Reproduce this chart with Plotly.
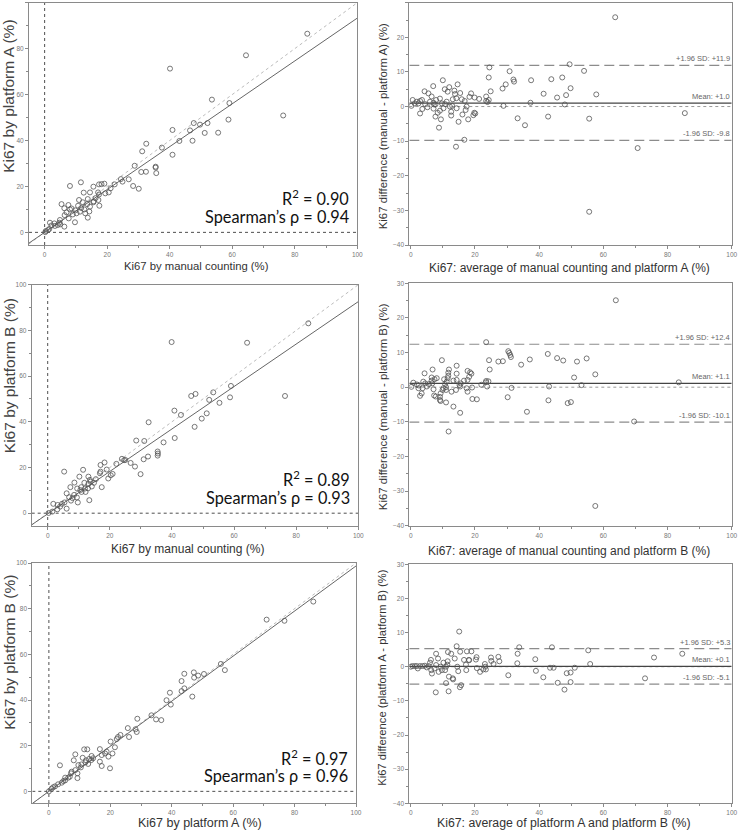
import plotly.graph_objects as go

# ---------------- data ----------------
# Panel 1: manual counting (x) vs platform A (y)
p1_x = [84.0, 64.4, 40.1, 76.3, 53.5, 59.1, 58.8, 47.7, 49.7, 52.1, 46.5, 40.9, 51.2, 55.5, 43.1, 47.3,
        32.5, 37.5, 31.2, 40.9, 35.5, 35.5, 28.8, 35.7, 32.4, 30.9, 26.9, 24.4, 24.9, 28.3, 30.1, 22.4,
        21.1, 20.5, 19.4, 19.1, 18.2, 17.4, 8.1, 11.6, 15.6, 12.5, 14.5, 17.1, 17.4, 13.8, 16.3, 17.2,
        15.7, 17.5, 11.0, 12.2, 13.6, 14.3, 13.8, 5.4, 7.6, 6.3, 8.1, 9.8, 11.7, 10.2, 9.0, 6.4, 7.7,
        9.7, 6.3, 4.7, 3.1, 1.7, 1.5, 0.4, 0.2, 3.3, 4.2, 4.9, 7.0, 8.6, 12.7, 15.6, 13.0, 11.3, 10.7,
        14.5, 5.0, 2.2, 1.1]
p1_y = [86.5, 77.1, 71.3, 50.9, 57.8, 56.3, 49.1, 47.6, 46.9, 47.6, 44.4, 44.6, 43.3, 43.4, 39.8, 39.9,
        38.6, 36.9, 35.3, 33.8, 28.6, 28.2, 29.0, 25.8, 26.4, 26.3, 23.1, 23.2, 22.1, 20.2, 19.0, 20.9,
        19.2, 17.4, 17.0, 21.2, 21.0, 20.9, 20.2, 21.8, 19.9, 17.3, 17.4, 17.4, 16.5, 14.5, 14.9, 14.1,
        13.5, 11.6, 14.1, 13.1, 12.3, 9.1, 6.4, 12.3, 11.9, 10.5, 10.0, 9.6, 10.6, 8.3, 7.8, 7.5, 6.1,
        4.4, 2.5, 4.2, 3.9, 4.2, 1.5, 0.6, 0.1, 2.8, 3.2, 5.4, 8.7, 10.4, 10.0, 13.1, 8.3, 9.0, 11.6,
        11.2, 3.5, 3.0, 1.0]

# Panel 2: Bland-Altman manual vs platform A
p2_x = [63.7, 49.5, 54.0, 24.5, 30.8, 24.3, 32.0, 32.2, 37.5, 43.8, 47.2, 29.6, 28.6, 49.8, 24.9, 41.4,
        57.8, 48.4, 45.6, 23.5, 21.3, 19.9, 18.8, 18.3, 23.5, 24.3, 23.9, 37.3, 48.0, 28.9, 85.4, 33.3,
        42.8, 35.6, 55.6, 70.7, 55.6, 14.1, 16.7, 14.9, 10.0, 14.6, 12.0, 7.0, 4.3, 10.6, 11.5, 13.6,
        13.8, 15.4, 13.1, 5.5, 6.5, 7.9, 9.1, 6.0, 3.5, 1.9, 0.6, 1.2, 0.2, 2.4, 2.9, 4.5, 5.2, 2.9,
        3.6, 7.1, 8.4, 7.7, 9.1, 8.8, 9.4, 10.7, 11.2, 12.2, 12.6, 12.6, 12.9, 14.3, 15.9, 14.2, 16.8,
        17.4, 17.1, 17.9, 16.1, 19.5, 19.8, 20.1, 7.3, 9.7, 10.2, 7.1, 7.7]
p2_y = [25.8, 12.2, 10.3, 11.3, 10.2, 8.4, 7.8, 7.2, 7.6, 7.9, 8.4, 6.4, 5.2, 5.3, 4.4, 3.7,
        3.5, 3.3, 2.6, 2.9, 2.2, 2.6, 3.8, 2.8, 1.6, 1.9, 1.3, 1.1, 0.6, 0.2, -1.9, -3.4,
        -2.9, -5.4, -3.5, -12.0, -30.4, -11.6, -9.6, -4.4, 7.6, 6.4, 5.6, 5.9, 4.4, 5.0, 4.3, 4.6,
        3.6, 3.9, 2.1, 3.8, 2.9, 1.9, 2.3, 1.4, 1.9, 1.4, 1.9, 0.9, 0.2, 0.9, 1.6, 0.7, -0.2, -2.0,
        -0.7, -0.6, -1.8, -2.9, -1.2, -6.1, -3.7, 0.7, 1.4, 0.0, -1.5, -2.6, 0.2, -0.5, 2.1, 2.4, 1.6,
        0.0, -1.0, -3.7, -2.3, -2.5, -1.8, -2.0, 0.6, 0.9, -0.5, 1.1, 0.6]

# Panel 3: manual counting (x) vs platform B (y)
p3_x = [83.9, 64.2, 39.9, 76.4, 59.0, 58.7, 55.3, 53.3, 52.0, 46.2, 47.6, 51.2, 49.6, 42.9, 40.8, 47.3,
        40.9, 32.5, 37.3, 31.1, 28.5, 35.4, 35.5, 35.4, 32.3, 30.9, 29.9, 28.1, 26.7, 24.6, 23.9, 25.0,
        22.1, 20.9, 20.3, 18.3, 17.0, 19.0, 19.5, 17.0, 16.8, 17.4, 15.5, 14.9, 13.6, 13.0, 13.4, 11.8,
        11.4, 10.2, 5.3, 8.6, 7.3, 9.5, 10.8, 12.0, 12.2, 10.9, 8.5, 6.1, 6.9, 8.0, 7.5, 9.4, 9.7,
        6.1, 4.6, 3.2, 1.8, 3.1, 1.5, 0.3, 4.0, 5.4, 13.1, 14.2, 10.5, 13.1, 13.8]
p3_y = [83.1, 74.6, 74.9, 51.3, 55.7, 50.7, 48.3, 52.9, 49.6, 51.3, 52.2, 43.7, 41.4, 43.0, 44.9, 37.8,
        32.9, 39.8, 31.0, 31.6, 31.8, 27.0, 26.1, 25.2, 24.8, 23.6, 17.1, 20.4, 22.0, 23.2, 23.8, 23.3,
        21.6, 17.2, 16.6, 22.2, 21.1, 19.1, 15.2, 18.2, 17.5, 11.4, 14.9, 13.3, 14.6, 10.9, 5.7, 13.3,
        19.0, 16.0, 18.2, 13.4, 11.4, 10.8, 11.4, 10.8, 9.3, 9.3, 8.0, 8.7, 7.0, 6.6, 5.5, 6.9, 4.7,
        2.0, 4.1, 3.6, 4.1, 1.7, 0.7, 0.1, 2.9, 4.7, 12.8, 11.7, 10.1, 16.0, 13.8]

# Panel 4: Bland-Altman manual vs platform B
p4_x = [63.9, 57.5, 23.5, 30.4, 30.7, 31.0, 31.2, 27.3, 28.7, 24.4, 34.4, 37.1, 42.7, 45.6, 47.5, 51.8,
        54.8, 57.5, 50.9, 53.2, 43.1, 31.4, 30.2, 42.9, 48.9, 49.9, 36.2, 69.6, 83.5, 24.6, 23.5, 24.2,
        23.8, 23.4, 22.0, 20.6, 19.2, 19.1, 18.9, 18.5, 17.7, 18.2, 17.7, 17.4, 17.7, 16.6, 15.2, 15.4,
        15.6, 15.4, 13.3, 14.3, 14.3, 14.3, 14.1, 13.3, 12.7, 11.9, 11.7, 11.7, 11.5, 11.2, 11.0, 11.0,
        10.7, 11.0, 11.8, 10.4, 9.7, 10.2, 9.9, 9.3, 9.1, 9.1, 9.3, 8.1, 7.4, 6.8, 6.5, 6.5, 6.7, 7.1,
        7.3, 7.8, 5.7, 5.0, 4.5, 4.3, 3.9, 3.7, 3.4, 2.9, 2.5, 2.4, 1.9, 0.8, 0.2]
p4_y = [25.1, -34.3, 13.0, 10.4, 9.9, 9.3, 8.7, 7.4, 7.5, 7.8, 6.5, 8.0, 9.6, 8.4, 7.7, 7.4,
        8.3, 3.7, 2.8, 0.6, 0.2, -0.2, -2.9, -3.8, -4.6, -4.3, -7.1, -9.9, 1.4, 5.1, 1.8, 1.7,
        0.2, 1.4, 0.7, -3.5, -3.4, -0.1, 3.9, 4.3, 4.7, 3.0, 2.1, -0.3, -1.3, 1.9, 0.6, 0.2,
        1.1, -7.4, -5.6, 3.9, 6.2, 2.1, -0.8, 1.9, -1.3, 5.1, 4.2, 3.3, 2.6, 1.6, 0.0, -0.8,
        0.9, -4.4, -12.8, 2.3, 7.8, -0.3, -0.8, -1.8, -2.8, -3.7, -4.0, 2.6, 2.3, 5.1, 2.8, 1.9, 1.1, -0.6,
        -2.4, -2.7, 0.9, 0.2, 1.1, 4.0, 1.6, -0.3, -1.8, -2.5, 0.5, -0.3, 0.8, 1.3, 0.1]

# Panel 5: platform A (x) vs platform B (y)
p5_x = [86.1, 70.9, 76.7, 56.0, 57.3, 50.5, 48.6, 47.2, 44.1, 47.3, 43.2, 44.1, 43.2, 39.4, 46.7, 38.3,
        39.7, 33.4, 28.8, 34.9, 36.6, 28.2, 28.6, 25.7, 26.1, 23.3, 22.5, 22.1, 21.5, 20.7, 19.9, 19.4,
        20.1, 18.8, 18.3, 16.6, 17.2, 16.6, 17.2, 14.4, 13.9, 12.5, 11.5, 11.9, 12.8, 10.4, 11.0, 9.6,
        8.6, 8.1, 9.3, 9.3, 8.6, 7.2, 6.3, 5.3, 3.6, 4.2, 3.0, 2.0, 0.9, 0.0, 5.3, 7.4, 10.6, 13.8,
        12.1, 13.1, 6.8, 4.7, 1.4]
p5_y = [83.1, 75.2, 74.7, 55.8, 53.1, 51.4, 50.7, 52.1, 51.5, 49.8, 48.3, 45.1, 43.9, 43.2, 41.5, 39.9,
        38.0, 33.3, 31.8, 31.5, 31.2, 27.2, 26.0, 27.7, 23.8, 24.7, 23.8, 22.9, 19.3, 16.6, 10.1, 15.2,
        21.8, 17.4, 16.6, 18.5, 15.9, 13.0, 11.1, 14.5, 15.5, 18.4, 18.4, 12.7, 12.0, 10.5, 14.7, 11.5,
        16.2, 13.6, 5.8, 7.9, 9.3, 7.9, 6.0, 4.8, 11.4, 3.8, 3.1, 2.2, 1.2, 0.0, 6.0, 8.6, 11.8, 13.7,
        13.6, 14.2, 6.4, 4.5, 1.8]

# Panel 6: Bland-Altman platform A vs platform B
p6_x = [15.1, 14.3, 15.4, 17.5, 18.9, 18.1, 18.2, 16.6, 13.7, 12.6, 11.6, 7.9, 8.5, 6.3, 6.0, 25.0,
        27.3, 27.6, 25.1, 25.8, 20.5, 20.3, 33.3, 33.8, 44.0, 55.3, 55.9, 33.2, 38.8, 39.0, 43.4, 44.5,
        51.1, 41.3, 30.4, 45.8, 48.6, 49.8, 49.8, 47.9, 73.0, 75.8, 84.6, 23.1, 23.2, 23.4, 22.6, 21.6,
        20.6, 15.7, 15.3, 13.1, 13.2, 11.8, 11.0, 7.8, 11.9, 14.8, 17.3, 17.2, 14.5, 11.0, 10.7, 9.7,
        9.3, 8.7, 7.9, 7.4, 6.6, 6.4, 5.6, 5.0, 4.4, 3.7, 2.9, 2.2, 1.9, 1.3, 0.5, 0.0, 11.5, 11.4, 10.2]
p6_y = [10.3, 6.0, 4.4, 4.5, 4.5, 2.0, 1.9, 2.0, 2.4, 3.8, 4.3, 3.8, 2.4, 2.0, 1.2, 2.7,
        2.9, 1.6, 1.7, 0.8, 2.8, 2.1, 3.8, 5.7, 5.7, 4.8, 0.8, 1.0, 2.2, -1.2, -0.3, -0.3,
        -0.3, -3.1, -2.5, -4.7, -1.9, -1.7, -4.5, -6.7, -3.4, 2.7, 3.8, 0.8, 0.0, -0.8, -0.8, -1.5,
        -0.4, -5.4, -6.0, -3.4, -3.7, -7.2, -4.8, -7.5, -2.9, -1.3, -1.0, 0.6, 0.0, 0.0, -1.0, -1.0,
        0.0, -1.5, 0.5, -0.5, -2.0, -1.0, 0.2, -0.2, 0.3, 0.2, 0.2, -0.5, 0.2, 0.2, 0.2, 0.0, 1.6, 0.6, 1.2]

# regression lines (slope, intercept) of the three correlation plots
reg_slope = [0.933, 0.929, 0.987]
reg_intercept = [0.0, -0.3, 0.0]
r2_labels = ["0.90", "0.89", "0.97"]
rho_labels = ["0.94", "0.93", "0.96"]

# Bland-Altman statistics: mean, +1.96 SD, -1.96 SD
ba_mean = [1.0, 1.1, 0.1]
ba_upper = [11.9, 12.4, 5.3]
ba_lower = [-9.8, -10.1, -5.1]
ba_mean_lbl = ["+1.0", "+1.1", "+0.1"]
ba_upper_lbl = ["+11.9", "+12.4", "+5.3"]
ba_lower_lbl = ["-9.8", "-10.1", "-5.1"]

sc_xtitles = ["Ki67 by manual counting (%)", "Ki67 by manual counting (%)", "Ki67 by platform A (%)"]
sc_ytitles = ["Ki67 by platform A (%)", "Ki67 by platform B (%)", "Ki67 by platform B (%)"]
ba_xtitles = ["Ki67: average of manual counting and platform A (%)",
              "Ki67: average of manual counting and platform B (%)",
              "Ki67: average of platform A and platform B (%)"]
ba_ytitles = ["Ki67 difference (manual - platform A) (%)",
              "Ki67 difference (manual - platform B) (%)",
              "Ki67 difference (platform A - platform B) (%)"]

# ---------------- layout geometry (pixels) ----------------
W, H = 738, 833
FONT = "Liberation Sans, Arial, sans-serif"

def xdom(l, r):
    return [l / W, r / W]

def ydom(t, b):
    return [1 - b / H, 1 - t / H]

sc_geo = [  # left, right, top, bottom, xmin, ymin
    (29.0, 357.3, 2.7, 245.0, -5.0, -5.5),
    (31.7, 358.3, 284.7, 526.0, -5.15, -5.6),
    (32.3, 356.0, 563.0, 803.0, -5.4, -5.1),
]
ba_geo = [  # left, right, top, bottom
    (409.3, 731.7, 2.7, 245.0),
    (409.3, 731.7, 283.3, 525.7),
    (409.3, 731.7, 564.3, 803.3),
]
sc_xt = [(196, 266, 11.3), (187, 549, 12.0), (200, 823, 12.5)]
sc_yt = [(8.5, 96.3, 15.5), (9.2, 376, 15.5), (9.2, 652.5, 15.5)]
ba_xt = [(569, 268, 12.0), (569, 551, 12.0), (564, 823, 12.3)]
ba_yt = [(383, 126.3, 11.4), (382.5, 406.7, 11.4), (382.5, 678.3, 11.2)]

fig = go.Figure()
layout = dict(width=W, height=H, margin=dict(l=0, r=0, t=0, b=0),
              paper_bgcolor="white", plot_bgcolor="white", showlegend=False,
              font=dict(family=FONT, color="#333"))
annotations = []

AX = dict(showline=True, linecolor="#8a8a8a", linewidth=1, mirror=True, showgrid=False,
          zeroline=False, ticks="outside", ticklen=3, tickcolor="#8a8a8a", tickwidth=1,
          tickfont=dict(family=FONT, size=6.5, color="#777"), automargin=False)

marker = dict(symbol="circle-open", size=5, color="#555", line=dict(width=0.8, color="#555"))

sc_data = [(p1_x, p1_y), (p3_x, p3_y), (p5_x, p5_y)]
ba_data = [(p2_x, p2_y), (p4_x, p4_y), (p6_x, p6_y)]

for i in range(3):
    # ---------- correlation panel ----------
    n = 2 * i + 1
    xa, ya = f"x{n}", f"y{n}"
    l, r, t, b, xmin, ymin = sc_geo[i]
    layout[f"xaxis{n}"] = dict(AX, domain=xdom(l, r), range=[xmin, 100], anchor=ya,
                               tickvals=[0, 20, 40, 60, 80, 100],
                               minor=dict(dtick=10, tick0=0, ticks="outside", ticklen=2, tickcolor="#8a8a8a"))
    layout[f"yaxis{n}"] = dict(AX, domain=ydom(t, b), range=[ymin, 100], anchor=xa,
                               tickvals=[0, 20, 40, 60, 80, 100],
                               minor=dict(dtick=10, tick0=0, ticks="outside", ticklen=2, tickcolor="#8a8a8a"))
    # reference lines at zero
    fig.add_trace(go.Scatter(x=[0, 0], y=[ymin, 100], mode="lines", xaxis=xa, yaxis=ya,
                             line=dict(color="#222", width=0.8, dash="dot"), hoverinfo="skip"))
    fig.add_trace(go.Scatter(x=[xmin, 100], y=[0, 0], mode="lines", xaxis=xa, yaxis=ya,
                             line=dict(color="#222", width=0.8, dash="dot"), hoverinfo="skip"))
    # identity line
    lo = max(xmin, ymin)
    fig.add_trace(go.Scatter(x=[lo, 100], y=[lo, 100], mode="lines", xaxis=xa, yaxis=ya,
                             line=dict(color="#aaa", width=0.8, dash="dot"), hoverinfo="skip"))
    # regression line
    rx = [xmin, 100]
    ry = [reg_slope[i] * v + reg_intercept[i] for v in rx]
    fig.add_trace(go.Scatter(x=rx, y=ry, mode="lines", xaxis=xa, yaxis=ya,
                             line=dict(color="#666", width=1), hoverinfo="skip"))
    fig.add_trace(go.Scatter(x=sc_data[i][0], y=sc_data[i][1], mode="markers", xaxis=xa, yaxis=ya,
                             marker=marker))
    annotations.append(dict(x=98, y=15, xref=xa, yref=ya, xanchor="right", yanchor="middle",
                            text=f"R<sup>2</sup> = {r2_labels[i]}", showarrow=False,
                            font=dict(family="Lato, Open Sans, sans-serif", size=16.3, color="#111")))
    annotations.append(dict(x=98, y=6.8, xref=xa, yref=ya, xanchor="right", yanchor="middle",
                            text=f"Spearman\u2019s \u03c1 = {rho_labels[i]}", showarrow=False,
                            font=dict(family="Lato, Open Sans, sans-serif", size=16.3, color="#111")))
    cx, cy, fs = sc_xt[i]
    annotations.append(dict(x=cx / W, y=1 - cy / H, xref="paper", yref="paper", text=sc_xtitles[i],
                            showarrow=False, xanchor="center", yanchor="middle",
                            font=dict(family=FONT, size=fs, color="#333")))
    cx, cy, fs = sc_yt[i]
    annotations.append(dict(x=cx / W, y=1 - cy / H, xref="paper", yref="paper", text=sc_ytitles[i],
                            showarrow=False, xanchor="center", yanchor="middle", textangle=-90,
                            font=dict(family=FONT, size=fs, color="#444")))

    # ---------- Bland-Altman panel ----------
    n = 2 * i + 2
    xa, ya = f"x{n}", f"y{n}"
    l, r, t, b = ba_geo[i]
    layout[f"xaxis{n}"] = dict(AX, domain=xdom(l, r), range=[-0.45, 100], anchor=ya,
                               tickvals=[0, 20, 40, 60, 80, 100],
                               minor=dict(dtick=10, tick0=0, ticks="outside", ticklen=2, tickcolor="#8a8a8a"))
    layout[f"yaxis{n}"] = dict(AX, domain=ydom(t, b), range=[-40, 30], anchor=xa,
                               tickvals=[-40, -30, -20, -10, 0, 10, 20, 30],
                               minor=dict(dtick=5, tick0=0, ticks="outside", ticklen=2, tickcolor="#8a8a8a"))
    fig.add_trace(go.Scatter(x=[-0.45, 100], y=[0, 0], mode="lines", xaxis=xa, yaxis=ya,
                             line=dict(color="#999", width=1, dash="dot"), hoverinfo="skip"))
    fig.add_trace(go.Scatter(x=[-0.45, 100], y=[ba_upper[i]] * 2, mode="lines", xaxis=xa, yaxis=ya,
                             line=dict(color="#8c8c8c", width=1.2, dash="10px,5px"), hoverinfo="skip"))
    fig.add_trace(go.Scatter(x=[-0.45, 100], y=[ba_lower[i]] * 2, mode="lines", xaxis=xa, yaxis=ya,
                             line=dict(color="#8c8c8c", width=1.2, dash="10px,5px"), hoverinfo="skip"))
    fig.add_trace(go.Scatter(x=[-0.45, 100], y=[ba_mean[i]] * 2, mode="lines", xaxis=xa, yaxis=ya,
                             line=dict(color="#444", width=1.1), hoverinfo="skip"))
    fig.add_trace(go.Scatter(x=ba_data[i][0], y=ba_data[i][1], mode="markers", xaxis=xa, yaxis=ya,
                             marker=marker))
    for val, txt in [(ba_upper[i], f"+1.96 SD: {ba_upper_lbl[i]}"),
                     (ba_mean[i], f"Mean: {ba_mean_lbl[i]}"),
                     (ba_lower[i], f"-1.96 SD: {ba_lower_lbl[i]}")]:
        annotations.append(dict(x=100, y=val, xref=xa, yref=ya, xanchor="right", yanchor="bottom",
                                yshift=0, text=txt, showarrow=False,
                                font=dict(family=FONT, size=7.5, color="#666")))
    cx, cy, fs = ba_xt[i]
    annotations.append(dict(x=cx / W, y=1 - cy / H, xref="paper", yref="paper", text=ba_xtitles[i],
                            showarrow=False, xanchor="center", yanchor="middle",
                            font=dict(family=FONT, size=fs, color="#333")))
    cx, cy, fs = ba_yt[i]
    annotations.append(dict(x=cx / W, y=1 - cy / H, xref="paper", yref="paper", text=ba_ytitles[i],
                            showarrow=False, xanchor="center", yanchor="middle", textangle=-90,
                            font=dict(family=FONT, size=fs, color="#333")))

layout["annotations"] = annotations
fig.update_layout(**layout)
# remove the browser's default 8px body margin so the figure sits at the page origin
fig.write_html("out.html", config={"displayModeBar": False},
               post_script="document.body.style.margin='0';document.body.style.overflow='hidden';")
